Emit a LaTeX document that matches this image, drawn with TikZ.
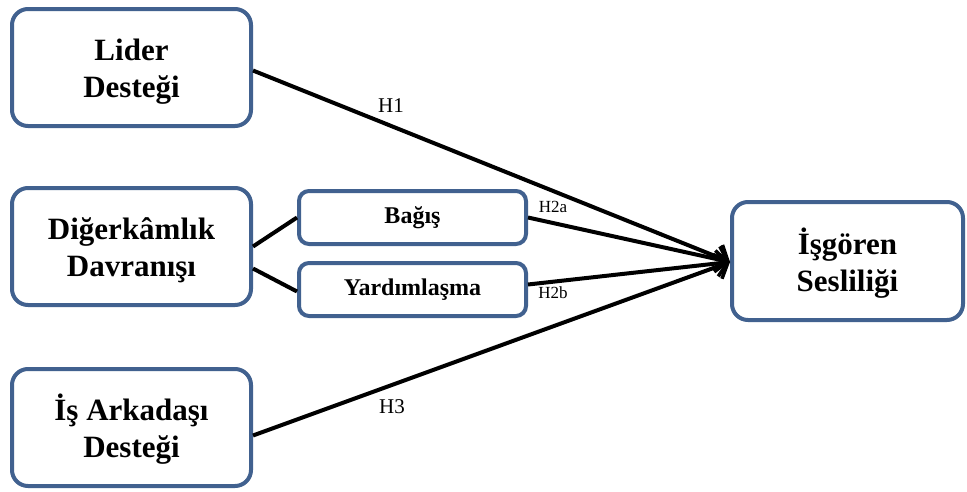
\documentclass[tikz,border=0pt]{standalone}
\usepackage{fontspec}
\setmainfont{Liberation Serif}
\usetikzlibrary{arrows.meta}
\definecolor{bord}{HTML}{41618F}
\newcommand{\twolinestext}[2]{\raisebox{-4pt}[\height][\depth]{\begin{tabular}{@{}c@{}}#1\\#2\end{tabular}}}
\begin{document}
\begin{tikzpicture}[x=1pt,y=-1pt,
  bigbox/.style={draw=bord,line width=4pt,rounded corners=16pt,fill=white,
    minimum width=239pt,minimum height=117pt,align=center,inner sep=0pt,
    font=\fontsize{31}{37}\selectfont\bfseries},
  smallbox/.style={draw=bord,line width=4pt,rounded corners=10pt,fill=white,
    minimum width=227pt,minimum height=53pt,align=center,inner sep=0pt,
    font=\fontsize{24}{28}\selectfont\bfseries},
  conn/.style={line width=4pt,black},
  arr/.style={conn,-{Straight Barb[length=11pt,width=26pt,line width=3.5pt]}},
  hlab/.style={font=\fontsize{21}{24}\selectfont,inner sep=1pt},
  slab/.style={font=\fontsize{17}{20}\selectfont,inner sep=1pt}]
\useasboundingbox (0,0) rectangle (967,491);
\node[bigbox] (lider) at (131.5,67.5) {\twolinestext{Lider}{Desteği}};
\node[bigbox] (diger) at (131.5,246.5) {\twolinestext{Diğerkâmlık}{Davranışı}};
\node[bigbox] (isark) at (131.5,427.5) {\twolinestext{İş Arkadaşı}{Desteği}};
\node[smallbox] (bagis) at (412.5,217.5) {Bağış};
\node[smallbox] (yard) at (412.5,289.5) {Yardımlaşma};
\node[bigbox,minimum width=231pt,minimum height=118pt] (isg) at (847.5,261) {\twolinestext{İşgören}{Sesliliği}};
\coordinate (tip) at ([yshift=-1pt]isg.west);
\draw[conn] (diger.east) -- (bagis.west);
\draw[conn] ([yshift=-22pt]diger.east) -- ([yshift=-2pt]yard.west);
\draw[arr] ([yshift=-3pt]lider.east) -- (tip);
\draw[arr] (bagis.east) -- (tip);
\draw[arr] ([yshift=5pt]yard.east) -- (tip);
\draw[arr] ([yshift=-8pt]isark.east) -- (tip);
\node[hlab] (h1) at (391,106) {H1};
\node[slab] (h2a) at (553,207) {H2a};
\node[slab] (h2b) at (553,293) {H2b};
\node[hlab] (h3) at (392,407) {H3};
\end{tikzpicture}
\end{document}
